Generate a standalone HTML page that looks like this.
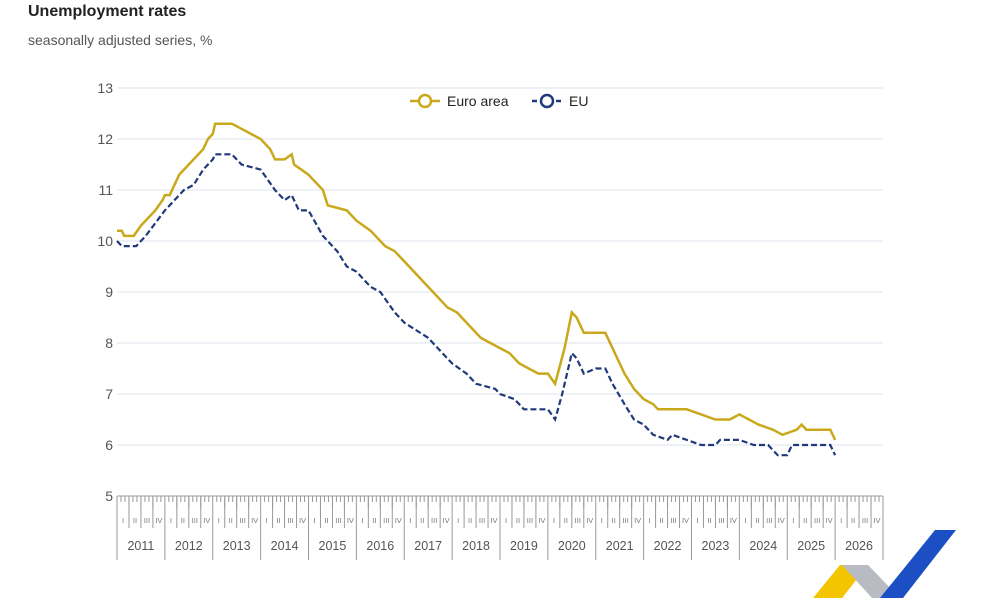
<!DOCTYPE html>
<html><head><meta charset="utf-8"><style>
body{margin:0;background:#fff;width:1000px;height:600px;overflow:hidden;font-family:"Liberation Sans",sans-serif}
</style></head><body>
<svg id="s" width="1000" height="600" xmlns="http://www.w3.org/2000/svg">
<text x="28" y="16" font-size="16" font-weight="bold" fill="#222">Unemployment rates</text>
<text x="28" y="45" font-size="14" fill="#555">seasonally adjusted series, %</text>
<g id="g"></g>
<line x1="410" y1="101" x2="440" y2="101" stroke="#c9a81c" stroke-width="2.5"/>
<circle cx="425" cy="101" r="6" fill="#fff" stroke="#c9a81c" stroke-width="2.5"/>
<text x="447" y="106" font-size="14" fill="#222">Euro area</text>
<line x1="532" y1="101" x2="562" y2="101" stroke="#1f3a7a" stroke-width="2.5" stroke-dasharray="5,3"/>
<circle cx="547" cy="101" r="6" fill="#fff" stroke="#1f3a7a" stroke-width="2.5"/>
<text x="569" y="106" font-size="14" fill="#222">EU</text>
<polygon points="813,598 840,565 868,565 842,598" fill="#f2c500"/>
<polygon points="842,565 868,565 900,598 872,598" fill="#b8bcc2"/>
<polygon points="880,598 935,530 956,530 903,598" fill="#1c4fc4"/>
</svg>
<script>
var g=document.getElementById('g'),h='';
function X(t){return 117+(t-2011)*47.875}
function Y(v){return 496-(v-5)*51}
for(var v=6;v<=13;v++){h+='<line x1="117" x2="883" y1="'+Y(v)+'" y2="'+Y(v)+'" stroke="#dde3ee" stroke-width="1"/>';}
for(var v=5;v<=13;v++){h+='<text x="113" y="'+(Y(v)+5)+'" font-size="14" fill="#555" text-anchor="end">'+v+'</text>';}
h+='<line x1="117" x2="883" y1="496" y2="496" stroke="#999"/>';
var R=['I','II','III','IV'];
for(var yr=2011;yr<=2026;yr++){
 for(var m=0;m<12;m++){var x=X(yr+m/12);
  var L=(m==0)?64:(m%3==0?12:6);
  h+='<line x1="'+x+'" x2="'+x+'" y1="496" y2="'+(496+L)+'" stroke="#999"/>';}
 for(var q=0;q<4;q++){h+='<text x="'+X(yr+q/4+0.125)+'" y="523" font-size="7.5" fill="#777" text-anchor="middle">'+R[q]+'</text>';
  if(q>0)h+='<line x1="'+X(yr+q/4)+'" x2="'+X(yr+q/4)+'" y1="496" y2="528" stroke="#999"/>';}
 h+='<text x="'+X(yr+0.5)+'" y="550" font-size="12.5" fill="#555" text-anchor="middle">'+yr+'</text>';
}
h+='<line x1="883" x2="883" y1="496" y2="560" stroke="#999"/>';
var ea=[2011,10.2,2011.1,10.2,2011.15,10.1,2011.35,10.1,2011.5,10.3,2011.8,10.6,2011.95,10.8,2012,10.9,2012.1,10.9,2012.3,11.3,2012.4,11.4,2012.6,11.6,2012.8,11.8,2012.9,12.0,2013,12.1,2013.05,12.3,2013.4,12.3,2013.6,12.2,2013.8,12.1,2014,12.0,2014.2,11.8,2014.3,11.6,2014.5,11.6,2014.65,11.7,2014.7,11.5,2015,11.3,2015.3,11.0,2015.4,10.7,2015.8,10.6,2016,10.4,2016.3,10.2,2016.6,9.9,2016.8,9.8,2017,9.6,2017.5,9.1,2017.9,8.7,2018.1,8.6,2018.5,8.2,2018.6,8.1,2018.8,8.0,2019,7.9,2019.2,7.8,2019.4,7.6,2019.6,7.5,2019.8,7.4,2020,7.4,2020.15,7.2,2020.35,7.9,2020.5,8.6,2020.6,8.5,2020.75,8.2,2021.2,8.2,2021.35,7.9,2021.6,7.4,2021.8,7.1,2022,6.9,2022.2,6.8,2022.3,6.7,2022.9,6.7,2023.2,6.6,2023.5,6.5,2023.8,6.5,2024,6.6,2024.4,6.4,2024.7,6.3,2024.9,6.2,2025.2,6.3,2025.3,6.4,2025.4,6.3,2025.9,6.3,2026,6.1];
var eu=[2011,10.0,2011.1,9.9,2011.4,9.9,2011.6,10.1,2012,10.6,2012.4,11.0,2012.6,11.1,2012.8,11.4,2013,11.6,2013.05,11.7,2013.4,11.7,2013.6,11.5,2014,11.4,2014.3,11.0,2014.5,10.8,2014.65,10.9,2014.8,10.6,2015,10.6,2015.3,10.1,2015.6,9.8,2015.8,9.5,2016,9.4,2016.3,9.1,2016.5,9.0,2016.8,8.6,2017,8.4,2017.5,8.1,2017.8,7.8,2018,7.6,2018.3,7.4,2018.5,7.2,2018.9,7.1,2019,7.0,2019.3,6.9,2019.5,6.7,2019.8,6.7,2020,6.7,2020.15,6.5,2020.3,7.0,2020.5,7.8,2020.6,7.7,2020.75,7.4,2021,7.5,2021.2,7.5,2021.35,7.2,2021.6,6.8,2021.8,6.5,2022,6.4,2022.2,6.2,2022.5,6.1,2022.6,6.2,2022.9,6.1,2023.2,6.0,2023.5,6.0,2023.6,6.1,2024,6.1,2024.3,6.0,2024.6,6.0,2024.8,5.8,2025,5.8,2025.1,6.0,2025.9,6.0,2026,5.8];
function P(a){var s='';for(var i=0;i<a.length;i+=2)s+=X(a[i]).toFixed(1)+','+Y(a[i+1]).toFixed(1)+' ';return s}
h+='<polyline fill="none" stroke="#c9a81c" stroke-width="2.5" points="'+P(ea)+'"/>';
h+='<polyline fill="none" stroke="#1f3a7a" stroke-width="2.2" stroke-dasharray="6,3" points="'+P(eu)+'"/>';
g.innerHTML=h;
</script>
</body></html>
